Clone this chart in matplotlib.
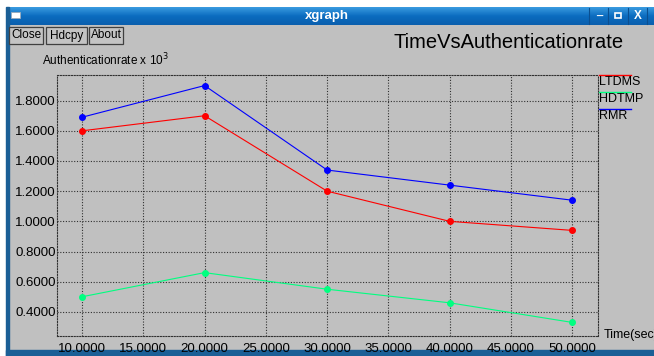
import matplotlib
matplotlib.use('Agg')
import matplotlib.pyplot as plt
import numpy as np
from matplotlib.patches import Rectangle
from matplotlib.colors import LinearSegmentedColormap

# data
time = [10, 20, 30, 40, 50]
ltdms = [1.60, 1.70, 1.20, 1.00, 0.94]
hdtmp = [0.50, 0.66, 0.55, 0.46, 0.33]
rmr = [1.69, 1.90, 1.34, 1.24, 1.14]

series_names = ['LTDMS', 'HDTMP', 'RMR']
series_colors = ['#ff0000', '#00ff80', '#0000ff']

xticks = [10, 15, 20, 25, 30, 35, 40, 45, 50]
yticks = [0.4, 0.6, 0.8, 1.0, 1.2, 1.4, 1.6, 1.8]

W, H = 654, 356
narrow = ['Liberation Sans Narrow', 'Liberation Sans', 'DejaVu Sans']
sans = ['Liberation Sans', 'DejaVu Sans']

fig = plt.figure(figsize=(W / 100, H / 100), dpi=100)

# window decoration drawn in pixel coords
bg = fig.add_axes([0, 0, 1, 1])
bg.axis('off')
bg.add_patch(Rectangle((0, 0), W, H, color='white', zorder=0.1))
bg.add_patch(Rectangle((7, 25), W - 7, 325, color='#c0c0c0', zorder=0.2))
grad = np.linspace(0, 1, 50).reshape(-1, 1)
cmap = LinearSegmentedColormap.from_list('bar', ['#3a9be0', '#0b6cc0', '#0a5fae'])
bg.imshow(grad, extent=[7, W, 25, 7], aspect='auto', cmap=cmap, origin='upper', zorder=0.5)
bg.add_patch(Rectangle((6, 7), 3, H - 7, color='#1b5f96', zorder=1))
bg.add_patch(Rectangle((6, 350), W - 6, 6, color='#1b5f96', zorder=1))
bg.add_patch(Rectangle((11, 12), 9, 6, facecolor='white', edgecolor='#9ab', lw=0.6, zorder=2))
bg.text(327, 16, 'xgraph', color='white', weight='bold', ha='center', va='center',
        fontsize=9.5, family=sans)
for sx in [589, 608, 628, 647]:
    bg.plot([sx, sx], [8, 24], color='#0a4f90', lw=0.8, zorder=2)
bg.text(599, 17, '_', color='white', weight='bold', ha='center', va='bottom', fontsize=8, family=sans)
bg.add_patch(Rectangle((615, 13), 6, 5, facecolor='none', edgecolor='white', lw=1.2, zorder=2))
bg.text(637.5, 16, 'X', color='white', weight='bold', ha='center', va='center', fontsize=8.5, family=sans)

buttons = [('Close', 9, 43), ('Hdcpy', 46, 87), ('About', 89, 123)]
for label, x0, x1 in buttons:
    bg.add_patch(Rectangle((x0, 27), x1 - x0, 17, facecolor='#c4c4c4', edgecolor='#404040',
                           lw=0.9, zorder=2))
    bg.text((x0 + x1) / 2, 35.5, label, ha='center', va='center', fontsize=8.5, family=narrow)

bg.text(393, 43, 'TimeVsAuthenticationrate', ha='left', va='center', fontsize=14.5, family=sans)
bg.text(42, 60, r'Authenticationrate x 10$^3$', ha='left', va='center', fontsize=8.5, family=sans)
bg.text(604, 335, 'Time(sec)', ha='left', va='center', fontsize=9, family=narrow)

# legend on the right, line above each name
for i, (name, col) in enumerate(zip(series_names, series_colors)):
    y = 75 + i * 17
    bg.plot([599, 631], [y, y], color=col, lw=1, zorder=2)
    bg.text(599, y + 7, name, ha='left', va='center', fontsize=9, family=narrow)

bg.set_xlim(0, W)
bg.set_ylim(H, 0)

# plot area
ax = fig.add_axes([57 / W, (H - 336) / H, (598 - 57) / W, (336 - 75) / H])
ax.patch.set_alpha(0)
ax.plot(time, ltdms, color=series_colors[0], lw=0.8, marker='o', ms=4)
ax.plot(time, hdtmp, color=series_colors[1], lw=0.8, marker='o', ms=4)
ax.plot(time, rmr, color=series_colors[2], lw=0.8, marker='o', ms=4)

ax.set_xlim(7.96, 52.1)
ax.set_ylim(0.24, 1.97)
ax.set_xticks(xticks)
ax.set_xticklabels(['%.4f' % v for v in xticks], family=narrow, fontsize=9.5)
ax.set_yticks(yticks)
ax.set_yticklabels(['%.4f' % v for v in yticks], family=narrow, fontsize=9.5)
ax.tick_params(length=0)
ax.tick_params(axis='x', pad=5)
ax.tick_params(axis='y', pad=1)
ax.grid(True, color='#303030', linestyle=(0, (1, 1.5)), lw=0.8)
for s in ax.spines.values():
    s.set_linestyle((0, (1, 1.5)))
    s.set_linewidth(0.8)
    s.set_color('#303030')

fig.savefig('out.png', dpi=100)
